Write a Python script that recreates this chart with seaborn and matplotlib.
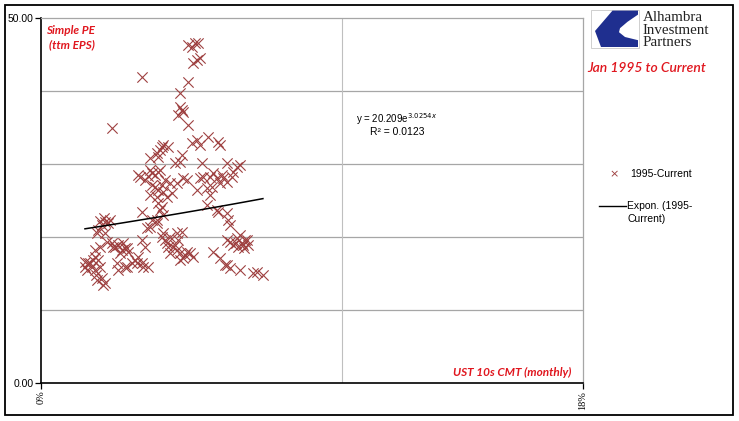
import matplotlib
matplotlib.use("Agg")
import matplotlib.pyplot as plt
from matplotlib.patches import Polygon, Rectangle
import numpy as np
import pandas as pd
import seaborn as sns

# ---- data (UST 10y CMT %, Simple PE ttm) ----
ust10 = [4.88, 5.02, 5.12, 5.22, 5.18, 5.05, 5.28, 3.36, 4.88, 4.62, 4.62, 4.68, 4.55, 4.72, 4.88,
         2.36, 5.18, 5.02, 5.28, 5.55, 4.02, 3.85, 4.22, 3.89, 4.68, 4.45, 5.35, 4.05, 3.95, 5.88,
         5.95, 4.62, 6.18, 6.51, 6.61, 4.85, 4.72, 5.28, 5.61, 5.85, 6.01, 6.18, 6.35, 5.95, 5.68,
         5.51, 4.29, 4.05, 3.85, 4.19, 5.18, 5.61, 5.51, 5.85, 6.18, 3.95, 4.05, 3.62, 3.79, 3.69,
         3.89, 3.62, 3.22, 3.69, 3.89, 3.45, 3.79, 4.12, 4.35, 3.89, 4.02, 3.69, 3.85, 3.62, 2.13,
         2.03, 2.23, 1.89, 2.13, 2.46, 2.69, 2.62, 2.79, 2.36, 2.19, 1.79, 1.89, 1.56, 1.46, 1.79,
         2.03, 2.13, 1.69, 3.36, 3.45, 3.12, 3.36, 3.55, 2.79, 2.56, 3.02, 3.22, 4.12, 4.22, 4.02,
         4.29, 5.88, 6.21, 6.28, 4.05, 4.29, 4.52, 4.68, 4.19, 4.39, 4.62, 4.72, 4.95, 5.05, 4.62,
         5.71, 5.95, 6.18, 6.28, 6.61, 7.04, 7.37, 7.18, 6.28, 6.51, 6.68, 6.78, 6.88, 6.54, 6.38,
         6.61, 6.11, 3.29, 3.95, 4.52, 5.38, 5.71, 6.05, 6.38, 1.86, 3.52, 3.85, 4.85, 1.63, 1.53,
         1.96, 1.86, 2.06, 2.52, 2.86, 3.19, 3.39, 2.39, 2.86, 6.18, 6.71, 6.84,
         2.09, 2.29, 1.96, 2.89, 2.56, 2.72, 4.52, 4.45, 4.78, 4.55, 6.48, 6.74, 1.73, 1.46, 1.83,
         3.55, 4.02, 1.96, 1.79, 3.62, 3.36]
simple_pe = [46.3, 46.0, 46.6, 46.6, 44.2, 43.8, 44.5, 41.9, 41.2, 39.7, 37.8, 37.4, 36.7, 37.1, 35.3,
             34.9, 33.3, 32.9, 32.6, 33.7, 32.3, 31.5, 32.3, 31.0, 31.2, 30.1, 30.1, 32.6, 31.9, 33.0,
             32.6, 30.3, 30.1, 29.6, 29.9, 27.8, 28.1, 28.1, 28.2, 28.1, 28.5, 27.5, 28.2, 27.4, 26.9,
             26.7, 27.4, 26.2, 25.5, 25.5, 26.4, 25.8, 24.4, 23.7, 23.3, 23.7, 23.0, 29.2, 28.5, 27.1,
             26.4, 25.8, 28.5, 28.8, 28.9, 27.8, 26.9, 27.8, 26.0, 24.7, 24.1, 22.3, 21.9, 21.4, 22.1,
             21.6, 21.9, 21.0, 20.5, 18.6, 18.2, 17.8, 18.5, 19.2, 19.3, 17.3, 16.8, 16.4, 15.9, 15.5,
             14.4, 13.7, 15.9, 19.6, 18.6, 16.8, 16.4, 15.9, 15.9, 15.5, 16.4, 17.3, 19.6, 18.6, 20.0,
             17.8, 23.4, 22.3, 21.6, 20.5, 20.0, 20.5, 20.7, 19.2, 18.6, 17.8, 17.1, 17.8, 17.3, 16.8,
             17.9, 17.1, 16.2, 15.8, 15.5, 15.1, 14.8, 15.2, 19.3, 19.9, 19.2, 19.6, 18.9, 18.6, 18.9,
             20.3, 16.2, 28.2, 29.2, 27.4, 28.2, 28.8, 28.1, 28.9, 20.5, 21.2, 22.3, 17.9, 16.4, 15.5,
             15.9, 14.1, 13.4, 16.4, 15.9, 16.4, 15.9, 18.6, 18.5, 19.6, 18.9, 19.6,
             22.6, 22.3, 22.2, 17.9, 18.9, 19.2, 18.2, 18.9, 17.5, 19.6, 19.2, 18.5, 16.8, 16.6, 14.8,
             28.4, 27.1, 18.6, 18.2, 30.8, 23.4]

fit_a = 20.209
fit_b = 3.0254
x_ticks = [0, 18]
x_tick_labels = ["0%", "18%"]
y_ticks = [0, 50]
y_tick_labels = ["0.00", "50.00"]
grid_y = [10, 20, 30, 40]
grid_x = [10]

df = pd.DataFrame({"ust": ust10, "pe": simple_pe})
xs = np.linspace(min(ust10), max(ust10), 50)
trend = pd.DataFrame({"ust": xs, "pe": fit_a * np.exp(fit_b * xs / 100.0)})

W, H = 739, 421
fig = plt.figure(figsize=(W / 100, H / 100), dpi=100)
fig.patch.set_facecolor("white")

# chart area border
fig.add_artist(Rectangle((5 / W, 6 / H), 728 / W, 410 / H, transform=fig.transFigure,
                         fill=False, edgecolor="black", linewidth=1.3))

ax = fig.add_axes([41 / W, (H - 383) / H, 542 / W, 365 / H])
ax.set_facecolor("white")

for g in grid_y:
    ax.axhline(g, color="#A6A6A6", linewidth=0.9, zorder=0)
for g in grid_x:
    ax.axvline(g, color="#BFBFBF", linewidth=0.8, zorder=0)

marker_col = "#9E4040"
sns.scatterplot(data=df, x="ust", y="pe", marker="x", color=marker_col, s=55,
                linewidth=0.8, ax=ax, zorder=3, legend=False)
sns.lineplot(data=trend, x="ust", y="pe", color="black", linewidth=1.1, ax=ax, zorder=4)

ax.set_xlim(0, 18)
ax.set_ylim(0, 50)
ax.set_xticks(x_ticks)
ax.set_xticklabels(x_tick_labels, rotation=90, family="Liberation Serif", fontsize=7.5)
ax.set_yticks(y_ticks)
ax.set_yticklabels(y_tick_labels, family="Liberation Sans", fontsize=7.5)
ax.tick_params(axis="both", direction="out", length=4, width=0.9, pad=1.5, color="black")
ax.set_xlabel("")
ax.set_ylabel("")
for s in ["left", "bottom"]:
    ax.spines[s].set_color("black")
    ax.spines[s].set_linewidth(1.2)
for s in ["top", "right"]:
    ax.spines[s].set_color("#A6A6A6")
    ax.spines[s].set_linewidth(0.9)

red = "#E0161E"
fig.text(46 / W, 1 - 30 / H, "Simple PE", color=red, fontsize=8.5, fontweight="bold",
         fontstyle="italic", family="Lato", ha="left", va="center")
fig.text(49 / W, 1 - 45 / H, "(ttm EPS)", color=red, fontsize=8.5, fontweight="bold",
         fontstyle="italic", family="Lato", ha="left", va="center")
fig.text(571 / W, 1 - 372 / H, "UST 10s CMT (monthly)", color=red, fontsize=8.5,
         fontweight="bold", fontstyle="italic", family="Lato", ha="right", va="center")
fig.text(647 / W, 1 - 68 / H, "Jan 1995 to Current", color=red, fontsize=10,
         fontstyle="italic", family="Lato", fontweight="semibold", ha="center", va="center")

# equation
fig.text(356 / W, 1 - 119 / H, r"y = 20.209e$^{3.0254x}$", fontsize=7,
         family="Liberation Sans", ha="left", va="center")
fig.text(370 / W, 1 - 132 / H, "R² = 0.0123", fontsize=7.5, family="Liberation Sans",
         ha="left", va="center")

# legend (manual)
fig.text(614 / W, 1 - 174 / H, "×", color=marker_col, fontsize=8, ha="center", va="center")
fig.text(630 / W, 1 - 174 / H, "1995-Current", fontsize=7.5, family="Liberation Sans",
         ha="left", va="center")
fig.add_artist(plt.Line2D([599 / W, 626 / W], [1 - 206 / H, 1 - 206 / H],
                          transform=fig.transFigure, color="black", linewidth=1.0))
fig.text(627 / W, 1 - 212.5 / H, "Expon. (1995-\nCurrent)", fontsize=7.5,
         family="Liberation Sans", ha="left", va="center", linespacing=1.4)

# logo
lax = fig.add_axes([590 / W, 1 - 49 / H, 50 / W, 40 / H])
lax.set_xlim(0, 1)
lax.set_ylim(0, 1)
lax.axis("off")
lax.add_patch(Rectangle((0.02, 0.02), 0.96, 0.96, fill=False, edgecolor="#C8C8C8", linewidth=0.6))
lax.add_patch(Polygon([(0.45, 0.96), (0.96, 0.96), (0.96, 0.86), (0.75, 0.68), (0.6, 0.52),
                       (0.58, 0.42), (0.7, 0.3), (0.96, 0.22), (0.96, 0.05), (0.22, 0.05),
                       (0.1, 0.45)],
                      closed=True, facecolor="#1F2F8F", edgecolor="none"))
fig.text(643 / W, 1 - 30 / H, "Alhambra\nInvestment\nPartners", fontsize=10.8,
         family="Liberation Serif", ha="left", va="center", color="#222222",
         linespacing=0.92)

fig.savefig("out.png", dpi=100, facecolor="white")
